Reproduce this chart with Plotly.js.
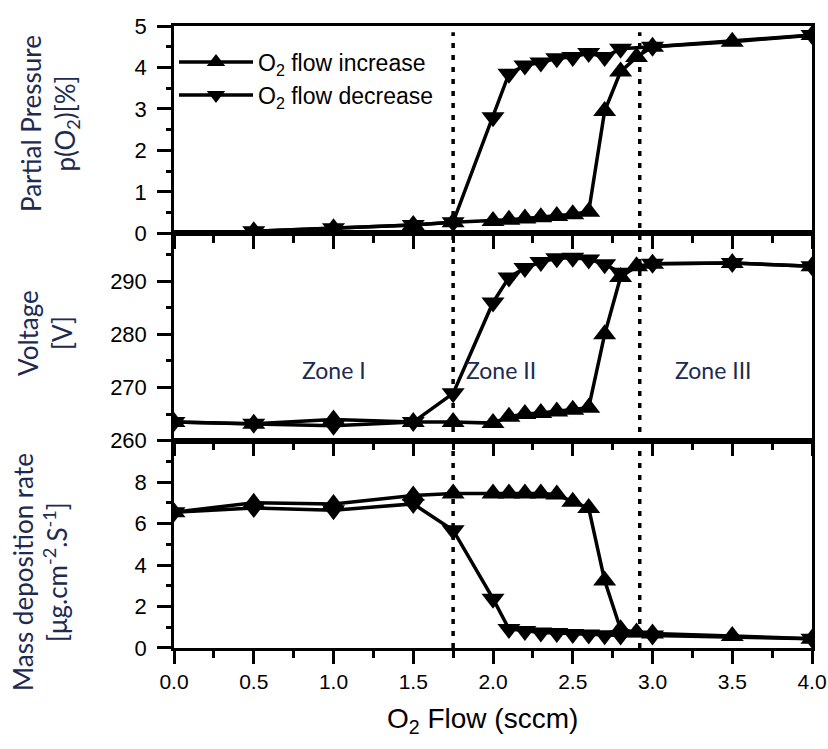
<!DOCTYPE html>
<html>
<head>
<meta charset="utf-8">
<script src="https://cdn.plot.ly/plotly-3.0.1.min.js"></script>
<style>html,body{margin:0;padding:0;background:#fff}#chart{width:828px;height:749px}</style>
</head>
<body>
<div id="chart"></div>
<script>
// O2 flow (sccm)
const xInc = [0, 0.5, 1.0, 1.5, 1.75, 2.0, 2.1, 2.2, 2.3, 2.4, 2.5, 2.6, 2.7, 2.8, 2.9, 3.0, 3.5, 4.0];
const xDec = [0, 0.5, 1.0, 1.5, 1.75, 2.0, 2.1, 2.2, 2.3, 2.4, 2.5, 2.6, 2.7, 2.8, 3.0, 3.5, 4.0];

// Partial pressure p(O2) [%]
const pInc = [null, 0.05, 0.12, 0.2, 0.27, 0.3, 0.33, 0.36, 0.39, 0.42, 0.46, 0.52, 2.95, 3.9, 4.25, 4.5, 4.62, 4.78];
const pDec = [null, 0.05, 0.12, 0.2, 0.27, 2.8, 3.85, 4.05, 4.12, 4.22, 4.25, 4.35, 4.25, 4.45, 4.5, null, 4.78];

// Voltage [V]
const vInc = [263.5, 263.2, 264.0, 263.5, 263.5, 263.3, 264.5, 265.0, 265.2, 265.5, 265.8, 266.2, 280.0, 290.8, 292.8, 293.3, 293.4, 292.8];
const vDec = [263.5, 263.2, 262.8, 263.5, 268.9, 286.0, 290.7, 292.5, 293.6, 294.3, 294.4, 294.1, 293.2, 291.6, 293.3, 293.4, 292.8];

// Mass deposition rate [ug.cm-2.s-1]
const mInc = [6.55, 7.0, 6.95, 7.35, 7.45, 7.45, 7.45, 7.45, 7.45, 7.4, 7.05, 6.75, 3.25, 0.9, 0.75, 0.7, 0.58, 0.45];
const mDec = [6.55, 6.75, 6.65, 6.95, 5.68, 2.38, 0.92, 0.82, 0.75, 0.72, 0.68, 0.65, 0.62, 0.6, 0.6, null, 0.45];

// tick positions and labels
const xTicks = [0, 0.5, 1.0, 1.5, 2.0, 2.5, 3.0, 3.5, 4.0];
const xTickText = ['0.0', '0.5', '1.0', '1.5', '2.0', '2.5', '3.0', '3.5', '4.0'];
const xMinorStep = 0.25;
const pTicks = [0, 1, 2, 3, 4, 5];
const vTicks = [260, 270, 280, 290];
const mTicks = [0, 2, 4, 6, 8];
const pMinorStep = 0.5, vMinorStep = 5, mMinorStep = 1;

const seriesNames = ['O<sub>2</sub> flow increase', 'O<sub>2</sub> flow decrease'];
const zoneNames = ['Zone I', 'Zone II', 'Zone III'];
const zoneX = [1.0, 2.05, 3.38];
const zoneY = [273.3, 273.3, 273.3];
const zoneBounds = [1.75, 2.92];

const xRange = [0, 4];
const pRange = [0, 5];
const vRange = [260, 299];
const mRange = [0, 10];

function tr(x, y, sym, xa, ya, name, show, leg) {
  return {
    x: x, y: y, type: 'scatter', mode: 'lines+markers', connectgaps: true,
    xaxis: xa, yaxis: ya, name: name, showlegend: show, legend: leg,
    line: {color: '#000', width: 3.5},
    marker: {symbol: sym, size: 20, color: '#000'}
  };
}

const data = [
  tr(xDec, pDec, 'triangle-down', 'x3', 'y', seriesNames[1], true, 'legend2'),
  tr(xInc, pInc, 'triangle-up', 'x3', 'y', seriesNames[0], true, 'legend'),
  tr(xDec, vDec, 'triangle-down', 'x2', 'y2', seriesNames[1], false, 'legend'),
  tr(xInc, vInc, 'triangle-up', 'x2', 'y2', seriesNames[0], false, 'legend'),
  tr(xDec, mDec, 'triangle-down', 'x', 'y3', seriesNames[1], false, 'legend'),
  tr(xInc, mInc, 'triangle-up', 'x', 'y3', seriesNames[0], false, 'legend')
];

const tickFont = {family: 'Liberation Sans, Arial, sans-serif', size: 21, color: '#000'};
const titleColor = '#202a50';
const titleFont = {family: 'Lato, Open Sans, sans-serif', size: 26, color: titleColor};

function xax(anchor, labels) {
  return {
    anchor: anchor, domain: [0, 1], range: xRange,
    showline: true, linecolor: '#000', linewidth: 2.5, mirror: true,
    ticks: 'outside', ticklen: 13, tickwidth: 2.5, tickcolor: '#000',
    tickmode: 'array', tickvals: xTicks, ticktext: xTickText, ticklabeloverflow: 'allow',
    minor: {tickmode: 'linear', tick0: 0, dtick: xMinorStep, ticks: 'outside', ticklen: 7, tickwidth: 2.5, tickcolor: '#000'},
    showticklabels: labels, tickfont: tickFont, showgrid: false, zeroline: false
  };
}
function yax(anchor, domain, range, tickvals, minorD) {
  return {
    anchor: anchor, domain: domain, range: range,
    showline: true, linecolor: '#000', linewidth: 2.5, mirror: true,
    ticks: 'outside', ticklen: 14, tickwidth: 2.5, tickcolor: '#000',
    tickmode: 'array', tickvals: tickvals,
    minor: {tickmode: 'linear', tick0: range[0], dtick: minorD, ticks: 'outside', ticklen: 5, tickwidth: 2.5, tickcolor: '#000'},
    tickfont: {family: tickFont.family, size: 22, color: '#000'},
    showgrid: false, zeroline: false, ticklabelstandoff: 6
  };
}

const W = 828, H = 749, ML = 174, MR = 16, MT = 26, MB = 101;
const xpx = px => (px - ML) / (W - ML - MR);
const ypx = py => (H - MB - py) / (H - MB - MT);

const annotations = [
  {text: 'Partial Pressure<br>p(O<sub>2</sub>)[%]', x: xpx(50), y: ypx(124)},
  {text: 'Voltage<br>[V]', x: xpx(45), y: ypx(333)},
  {text: 'Mass deposition rate<br>[μg.cm<sup>-2</sup>.S<sup>-1</sup>]', x: xpx(40), y: ypx(572)}
].map(a => Object.assign({xref: 'paper', yref: 'paper', textangle: -90, showarrow: false,
  xanchor: 'center', yanchor: 'middle', font: titleFont}, a));

zoneNames.forEach((z, i) => annotations.push({
  text: z, x: zoneX[i], y: zoneY[i], xref: 'x2', yref: 'y2', showarrow: false,
  font: {family: 'Lato, Open Sans, sans-serif', size: 23, color: titleColor}
}));

// x-axis title
annotations.push({
  text: 'O<sub>2</sub> Flow (sccm)', xref: 'paper', yref: 'paper', x: xpx(482), y: ypx(720),
  xanchor: 'center', yanchor: 'middle', showarrow: false,
  font: {family: 'Liberation Sans, Arial, sans-serif', size: 28, color: '#000'}
});

const shapes = zoneBounds.map(b => ({
  type: 'line', xref: 'x', yref: 'paper', x0: b, x1: b, y0: 0, y1: 0.99,
  line: {color: '#000', width: 3.5, dash: '5px,7px'}
}));

const legendBase = {
  xref: 'paper', yref: 'paper', xanchor: 'left', yanchor: 'middle',
  bgcolor: 'rgba(0,0,0,0)', borderwidth: 0, itemwidth: 74,
  font: {family: 'Liberation Sans, Arial, sans-serif', size: 23, color: '#000'}
};

const layout = {
  width: W, height: H,
  margin: {l: ML, r: MR, t: MT, b: MB},
  paper_bgcolor: '#ffffff', plot_bgcolor: 'rgba(0,0,0,0)',
  xaxis: xax('y3', true),
  xaxis2: xax('y2', false),
  xaxis3: xax('y', false),
  yaxis: yax('x3', [2/3, 1], pRange, pTicks, pMinorStep),
  yaxis2: yax('x2', [1/3, 2/3], vRange, vTicks, vMinorStep),
  yaxis3: yax('x', [0, 1/3], mRange, mTicks, mMinorStep),
  legend: Object.assign({x: 0.0, y: ypx(62)}, legendBase),
  legend2: Object.assign({x: 0.0, y: ypx(95)}, legendBase),
  annotations: annotations,
  shapes: shapes
};

Plotly.newPlot('chart', data, layout, {displayModeBar: false});
</script>
</body>
</html>
